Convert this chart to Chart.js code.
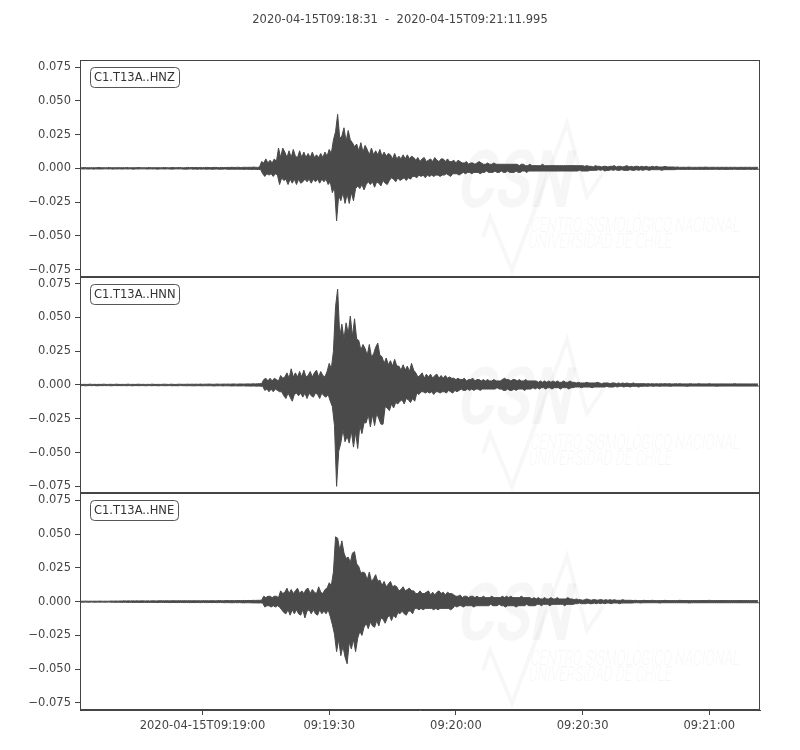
<!DOCTYPE html>
<html><head><meta charset="utf-8">
<script src="https://cdn.jsdelivr.net/npm/chart.js@4.4.1/dist/chart.umd.min.js"></script>
<style>html,body{margin:0;padding:0;background:#fff;}#wrap{width:800px;height:750px;position:relative;}canvas{display:block;}</style>
</head><body><div id="wrap"><canvas id="c" width="800" height="750"></canvas></div>
<script>
const TITLE = '2020-04-15T09:18:31  -  2020-04-15T09:21:11.995';
const SAMPLE_STEP = 0.25;      // seconds between successive peak / trough values
const VALUE_UNIT = 0.001;      // trace values below are written in units of 0.001
const X_MAX = 160.995;         // seconds after 09:18:31
const xTickSeconds = [29, 59, 89, 119, 149];
const xTickLabels = ['2020-04-15T09:19:00', '09:19:30', '09:20:00', '09:20:30', '09:21:00'];
const yTickValues = [-0.075, -0.05, -0.025, 0, 0.025, 0.05, 0.075];
const Y_LIMIT = 0.0802;
const channels = ['C1.T13A..HNZ', 'C1.T13A..HNN', 'C1.T13A..HNE'];

// alternating peak (+) / trough (-) values of each trace, one every SAMPLE_STEP seconds
const hnz = [
.5,-.4,.4,-.5,.6,-.4,.4,-.5,.5,-.5,.4,-.4,.5,-.6,.4,-.4,.5,-.5,.6,-.5,
.4,-.5,.5,-.4,.4,-.4,.5,-.5,.6,-.4,.4,-.6,.5,-.4,.4,-.5,.5,-.4,.4,-.5,
.5,-.5,.4,-.4,.6,-.5,.5,-.4,.4,-.5,.5,-.6,.4,-.4,.5,-.5,.6,-.4,.4,-.4,
.5,-.4,.4,-.5,.5,-.5,.6,-.4,.4,-.5,.5,-.4,.4,-.6,.5,-.5,.4,-.4,.5,-.5,
.6,-.5,.5,-.4,.4,-.5,.5,-.6,.6,-.5,.4,-.4,.5,-.5,.6,-.4,.5,-.5,.4,-.6,
.5,-.6,.7,-.5,.5,-.4,.6,-.6,.5,-.5,.6,-.7,.5,-.5,.7,-.6,.5,-.5,.6,-.6,
.7,-.6,.6,-.5,.5,-.7,.6,-.6,.7,-.5,.6,-.6,.5,-.7,.7,-.6,.6,-.5,.6,-.6,
.7,-.7,.6,-.6,.8,-.6,.6,-.7,.7,-.6,.8,-.7,.6,-.6,.7,-.8,.8,-.6,.7,-.7,
.8,-.7,.7,-.8,.9,-.7,.8,-.8,.7,-.9,.9,-.8,
5,-4,4,-6,7,-4,4,-5,6,-4,4,-6,7,-4,5,-5,
15,-12,8,-7,15,-9,
12,-8,8,-12,13,-8,8,-11,14,-8,9,-12,8,-8,13,-11,8,-10,12,-8,
8,-10,11,-8,8,-11,12,-8,8,-10,10,-8,8,-11,11,-8,8,-10,12,-8,9,-12,
14,-10,11,-18,21,-14,
27,-39,40,-20,22,-24,24,-18,30,-26,20,-19,28,-26,21,-18,19,-24,16,-15,
18,-13,13,-15,19,-12,12,-16,17,-12,
14,-10,10,-12,15,-10,10,-14,13,-10,10,-11,14,-13,9,-9,12,-11,9,-12,11,-9,
10,-7,7,-8,11,-10,7,-7,9,-9,7,-8,10,-7,7,-9,10,-7,7,-8,9,-6,
8,-6,6,-7,8,-5,5,-6,7,-5,8,-7,5,-5,6,-6,7,-5,5,-6,8,-5,6,-5,5,-6,7,-5,
7,-5,5,-4,7,-5,5,-6,5,-4,6,-4,4,-4,6,-5,
5,-4,4,-3,4,-4,5,-3,3,-3,4,-4,4,-3,3,-3,4,-3,5,-4,4,-3,3,-3,3,-2,4,-3,3,-3,3,-3,4,-2,3,-3,3,-3,3,-2,
3,-3,3,-3,3,-2,3,-3,3,-3,3,-3,3,-2,3,-3,2,-3,3,-2,3,-2,2,-3,2,-2,3,-2,
2,-2,2,-2,2,-2,2,-2,2,-2,3,-2,2,-2,2,-2,2,-2,2,-2,
2,-2,2,-2,2,-2,2,-2,2,-2,2,-2,2,-2,2,-2,2,-2,2,-2,
2,-2,2,-2,2,-1.5,2,-2,2,-2,1.5,-2,2,-2,1.5,-1.5,
1.5,-1.5,1,-1.5,2,-1.5,1.5,-1,1.5,-1.5,1,-1,1.5,-2,1.5,-1.5,1,-1.5,1.5,-1,
1.5,-1.5,2,-1,1,-1.5,1.5,-1.5,1.5,-1,1,-1.5,1.5,-1.5,2,-1.5,1,-1,1.5,-1.5,
1,-1.5,1.5,-1,1.5,-1.5,1,-1,1.5,-1.5,1,-1,1.5,-1,1,-1.5,1,-1,1.5,-1,
1,-1,1.5,-1,1,-1,1,-1.5,1,-1,1.5,-1,1,-1,1,-1,1,-1,1,-1,
.8,-.8,1,-.7,.7,-.8,.8,-.7,.8,-.8,.7,-.7,.9,-.8,.8,-.7,.7,-.8,.8,-.8,
.7,-.7,.8,-.8,.8,-.7,.7,-.8,.9,-.7,.8,-.8,.7,-.7,.8,-.8,.8,-.7,.7,-.7,
.8,-.8,.7,-.7,.8,-.7,.7,-.8,.8,-.8,.7,-.7,.8,-.8,.7,-.7,.8,-.7,.7,-.8,
.7,-.7,.8,-.7,.7,-.8,.8,-.7,.7,-.7,.8,-.8,.7,-.7,.7,-.8,.8,-.7,.7,-.7
];

const hnn = [
.5,-.5,.4,-.4,.5,-.6,.4,-.5,.5,-.4,.6,-.5,.4,-.4,.5,-.5,.4,-.6,.5,-.4,
.4,-.5,.6,-.4,.5,-.5,.4,-.4,.5,-.6,.5,-.5,.4,-.4,.6,-.5,.5,-.4,.4,-.5,
.5,-.4,.4,-.5,.5,-.5,.6,-.4,.4,-.6,.5,-.5,.4,-.4,.5,-.5,.6,-.5,.4,-.4,
.5,-.5,.4,-.6,.5,-.4,.4,-.5,.6,-.5,.5,-.4,.4,-.5,.5,-.6,.4,-.4,.5,-.5,
.6,-.5,.5,-.5,.4,-.4,.6,-.6,.5,-.5,.4,-.5,.5,-.6,.6,-.4,.5,-.5,.5,-.5,
.5,-.6,.6,-.5,.5,-.5,.6,-.6,.5,-.6,.6,-.5,.5,-.5,.7,-.6,.5,-.6,.6,-.5,
.6,-.6,.7,-.5,.6,-.6,.5,-.7,.6,-.6,.7,-.6,.6,-.5,.6,-.7,.7,-.6,.6,-.6,
.7,-.6,.6,-.7,.7,-.7,.8,-.6,.6,-.7,.7,-.7,.8,-.7,.7,-.6,.7,-.8,.8,-.7,
.8,-.8,.7,-.8,.9,-.7,.8,-.9,.9,-.8,1,-.9,1,-1,
4,-4,5,-3,3,-5,5,-3,3,-5,5,-3,4,-4,3,-5,
7,-5,5,-8,6,-10,9,-6,5,-9,12,-12,6,-7,
9,-6,6,-8,10,-6,6,-9,11,-6,6,-10,7,-6,10,-8,6,-9,9,-6,11,-7,6,-10,10,-6,7,-8,6,-9,10,-7,
16,-12,12,-16,
25,-30,58,-75,71,-49,
36,-43,45,-33,34,-42,46,-38,
38,-43,51,-34,36,-46,49,-35,34,-47,
33,-30,26,-36,30,-28,
27,-28,22,-22,30,-31,21,-22,23,-30,28,-21,31,-25,22,-29,
21,-29,16,-16,20,-17,15,-19,18,-14,14,-17,19,-13,14,-14,
14,-12,11,-11,15,-14,11,-10,14,-11,10,-13,16,-10,11,-12,
9,-6,6,-7,7,-5,9,-5,5,-6,8,-5,6,-6,8,-5,5,-7,7,-5,8,-5,5,-6,7,-5,5,-5,7,-6,5,-4,6,-5,5,-6,
5,-4,4,-5,5,-4,4,-3,4,-4,5,-4,3,-3,4,-4,4,-3,5,-4,3,-3,4,-3,4,-4,3,-3,4,-3,3,-3,4,-3,3,-3,3,-3,4,-3,3,-2,3,-3,3,-3,
4,-4,5,-4,4,-3,4,-4,3,-4,4,-3,4,-4,3,-3,4,-3,3,-3,3,-4,4,-3,3,-3,3,-3,3,-2,3,-3,
3,-2,2,-3,3,-2,2,-2,3,-3,2,-2,3,-2,2,-3,3,-2,2,-2,3,-2,2,-3,2,-2,3,-2,2,-2,2,-3,3,-2,2,-2,
2,-1.5,1.5,-1.5,2,-1.5,1.5,-2,1.5,-1.5,1.5,-1.5,2,-1.5,1.5,-1.5,
1.5,-2,1.5,-1.5,1.5,-1.5,2,-1.5,1.5,-1.5,1,-1.5,1.5,-1.5,1.5,-1,
1.5,-1.5,1,-1.5,1.5,-1.5,1.5,-1,1,-1.5,1.5,-1,1,-1,1.5,-1.5,
1,-1,1.5,-1,1,-1.5,1,-1,1.5,-1,1,-1,1,-1.5,1,-1,
1,-1,1,-.8,.8,-1,1,-.8,.8,-.8,1,-1,.8,-.8,1,-.8,.8,-1,1,-.8,
.8,-.8,1,-.8,.8,-.8,1,-1,.8,-.8,.8,-.8,1,-.8,.8,-.8,1,-.8,.8,-.8,
.8,-.8,.8,-1,.8,-.8,1,-.8,.8,-.8,.8,-.8,.8,-.8,1,-.8,.8,-.8,.8,-.8,
.8,-.8,.8,-.8,1,-.8,.8,-.8,.8,-.8,.8,-1,.8,-.8,.8,-.8,.8,-.8,.8,-.8,
.8,-.8,.8,-.8,.8,-.8,.8,-.8,1,-.8,.8,-.8,.8,-.8,.8,-.8,.8,-.8,.8,-.8,
.8,-.8,.8,-.8,.8,-.8,.8,-.8,.8,-.8,.8,-.8
];

const hne = [
.4,-.4,.3,-.4,.4,-.3,.4,-.4,.3,-.4,.4,-.3,.3,-.4,.4,-.4,.3,-.3,.4,-.4,
.4,-.3,.3,-.4,.4,-.4,.3,-.3,.4,-.4,.5,-.4,.4,-.5,.5,-.4,.4,-.4,.5,-.5,
.5,-.5,.6,-.4,.5,-.6,.6,-.5,.5,-.5,.6,-.6,.5,-.5,.6,-.5,.5,-.6,.6,-.6,
.6,-.5,.5,-.6,.6,-.6,.5,-.5,.6,-.6,.6,-.5,.5,-.6,.6,-.6,.7,-.5,.6,-.6,
.6,-.6,.7,-.6,.6,-.7,.6,-.6,.7,-.6,.6,-.6,.6,-.7,.7,-.6,.6,-.6,.7,-.7,
.7,-.6,.6,-.7,.7,-.7,.6,-.6,.7,-.7,.6,-.6,.7,-.7,.6,-.7,.7,-.6,.7,-.7,
.7,-.7,.6,-.6,.7,-.7,.7,-.6,.6,-.7,.7,-.7,.8,-.6,.7,-.7,.7,-.8,.8,-.7,
.8,-.7,.7,-.8,.8,-.8,.7,-.7,.8,-.8,.9,-.7,.8,-.8,.8,-.9,.9,-.8,.8,-.8,
.9,-.8,.8,-.9,1,-.9,.9,-.9,1,-1,1,-.9,1.1,-1,
4,-4,3,-3,4,-3,4,-4,3,-3,4,-4,4,-3,3,-4,
8,-6,6,-8,7,-9,10,-6,6,-10,9,-6,6,-9,8,-6,10,-9,6,-10,8,-6,6,-12,9,-7,10,-6,6,-9,9,-6,7,-9,6,-10,11,-6,7,-9,6,-7,9,-9,10,-6,
14,-11,12,-17,
22,-24,48,-37,47,-28,
38,-40,45,-33,36,-41,
32,-46,
33,-30,29,-35,36,-28,37,-37,28,-27,
26,-22,21,-25,22,-19,
21,-16,16,-20,22,-15,15,-18,17,-19,20,-14,15,-18,
16,-12,12,-13,15,-16,11,-12,13,-10,15,-14,11,-10,12,-12,
11,-8,8,-9,9,-7,11,-9,8,-10,9,-7,10,-7,8,-9,
8,-5,6,-5,6,-6,8,-5,6,-6,6,-5,7,-5,8,-5,5,-5,7,-6,5,-5,7,-6,8,-5,6,-5,7,-5,5,-5,7,-5,6,-6,6,-5,
5,-3,4,-4,4,-3,5,-3,3,-4,4,-3,4,-3,3,-3,4,-3,4,-4,3,-3,4,-3,3,-3,3,-3,4,-3,3,-3,3,-3,3,-2,4,-3,3,-3,3,-3,3,-2,3,-3,
4,-3,3,-4,4,-3,3,-3,4,-3,3,-3,3,-4,3,-3,3,-3,4,-3,3,-3,3,-2,3,-3,3,-3,2,-3,3,-3,
2,-2,3,-2,2,-3,2,-2,3,-2,2,-2,2,-3,3,-2,2,-2,2,-2,3,-2,2,-2,2,-2,2,-3,2,-2,3,-2,2,-2,2,-2,
1.5,-1.5,2,-1.5,1.5,-1,1.5,-1.5,1,-1.5,1.5,-1.5,2,-1,1.5,-1.5,1,-1.5,1.5,-1,
1.5,-1.5,1,-1,1.5,-1.5,1.5,-1,1,-1.5,1.5,-1,1,-1,1.5,-1.5,1,-1,1.5,-1,
1,-1,1,-1.5,1,-1,1.5,-1,1,-1,1,-1,1,-1,1,-1,
.8,-.8,1,-.8,.8,-.8,.8,-1,.8,-.8,1,-.8,.8,-.8,.8,-.8,.8,-.8,1,-.8,
.8,-.8,.8,-.8,.8,-1,.8,-.8,.8,-.8,1,-.8,.8,-.8,.8,-.8,.8,-.8,.8,-.8,
.8,-.8,.8,-.8,1,-.8,.8,-.8,.8,-.8,.8,-.8,.8,-1,.8,-.8,.8,-.8,.8,-.8,
.8,-.8,.8,-.8,.8,-.8,.8,-.8,.8,-.8,.8,-.8,1,-.8,.8,-.8,.8,-.8,.8,-.8,
.8,-.8,.8,-.8,.8,-.8,.8,-.8,.8,-.8,.8,-.8,.8,-.8,.8,-.8,.8,-.8,.8,-.8,
.8,-.8,.8,-.8,.8,-.8,.8,-.8,.8,-.8,.8,-.8,.8,-.8,.8,-.8,.8,-.8,.8,-.8
];

const FONT = "'DejaVu Sans', sans-serif";
const INK = '#444444';
const TRACE = '#4a4a4a';

function peaks(vals) {
  return vals.map((v, k) => ({ x: k * SAMPLE_STEP, y: v * VALUE_UNIT })).filter((p, k) => k % 2 === 0);
}
function troughs(vals) {
  return vals.map((v, k) => ({ x: k * SAMPLE_STEP, y: v * VALUE_UNIT })).filter((p, k) => k % 2 === 1);
}
function fmtY(v) {
  if (Math.abs(v) < 1e-9) return '0.000';
  return (v < 0 ? '\u2212' : '') + Math.abs(v).toFixed(3);
}
function yScale() {
  return {
    type: 'linear', position: 'left', stack: 'traces', stackWeight: 1,
    min: -Y_LIMIT, max: Y_LIMIT,
    afterBuildTicks: s => { s.ticks = yTickValues.map(v => ({ value: v })); },
    afterFit: s => { s.width = 80; },
    grid: { drawOnChartArea: false, tickLength: 5, color: INK, tickWidth: 1 },
    border: { display: true, color: INK, width: 1 },
    ticks: { color: INK, font: { family: FONT, size: 11.5 }, padding: 4, autoSkip: false, callback: v => fmtY(v) }
  };
}

const panelIds = ['yZ', 'yN', 'yE'];
const traces = [hnz, hnn, hne];

const decor = {
  id: 'decor',
  beforeDatasetsDraw(chart) {
    const ctx = chart.ctx, ca = chart.chartArea;
    ctx.save();
    panelIds.forEach(id => {
      const s = chart.scales[id];
      const top = s.top;
      ctx.fillStyle = 'rgba(0,0,0,0.035)';
      ctx.strokeStyle = 'rgba(0,0,0,0.03)';
      ctx.save();
      ctx.translate(ca.left + 375, top + 147);
      ctx.transform(0.72, 0, -0.2, 1, 0, 0);
      ctx.font = "bold 80px Roboto, sans-serif";
      ctx.textBaseline = 'alphabetic';
      ctx.fillText('CSN', 0, 0);
      ctx.restore();
      ctx.lineWidth = 4;
      ctx.beginPath();
      const pts = [[403,177],[410,157],[432,210],[487,63],[507,137],[523,113]];
      pts.forEach((p, i) => { const X = ca.left + p[0], Y = top + p[1]; i ? ctx.lineTo(X, Y) : ctx.moveTo(X, Y); });
      ctx.stroke();
      ctx.font = "300 21px Roboto, sans-serif";
      ctx.save();
      ctx.translate(ca.left + 450, top + 172);
      ctx.transform(0.64, 0, -0.12, 1, 0, 0);
      ctx.fillText('CENTRO SISMOLÓGICO NACIONAL', 0, 0);
      ctx.restore();
      ctx.save();
      ctx.translate(ca.left + 448, top + 188);
      ctx.transform(0.64, 0, -0.12, 1, 0, 0);
      ctx.fillText('UNIVERSIDAD DE CHILE', 0, 0);
      ctx.restore();
    });
    ctx.restore();
  },
  afterDatasetsDraw(chart) {
    const ctx = chart.ctx, ca = chart.chartArea;
    ctx.save();
    ctx.lineWidth = 1;
    panelIds.forEach((id, i) => {
      const s = chart.scales[id];
      const l = Math.round(ca.left) + 0.5, r = Math.round(ca.right) - 0.5;
      const t = Math.round(s.top) + 0.5, b = Math.round(s.bottom) - 0.5;
      ctx.strokeStyle = INK;
      ctx.strokeRect(l, t, r - l, b - t);
      ctx.font = "11.5px " + FONT;
      const w = ctx.measureText(channels[i]).width;
      const bx = Math.round(ca.left) + 10.5, by = Math.round(s.top) + 7.5, bw = Math.round(w + 8), bh = 20;
      ctx.fillStyle = '#ffffff';
      ctx.strokeStyle = '#555555';
      ctx.beginPath();
      ctx.roundRect(bx, by, bw, bh, 4);
      ctx.fill();
      ctx.stroke();
      ctx.fillStyle = '#333333';
      ctx.textBaseline = 'middle';
      ctx.textAlign = 'left';
      ctx.fillText(channels[i], bx + 3.5, by + bh / 2 + 0.5);
    });
    ctx.fillStyle = INK;
    ctx.font = "11.5px " + FONT;
    ctx.textAlign = 'center';
    ctx.textBaseline = 'middle';
    ctx.fillText(TITLE, chart.width / 2, 20);
    ctx.restore();
  }
};

const scales = {
  x: {
    type: 'linear', position: 'bottom', min: 0, max: X_MAX,
    afterBuildTicks: s => { s.ticks = xTickSeconds.map(v => ({ value: v })); },
    afterFit: s => { s.height = 40; },
    grid: { drawOnChartArea: false, tickLength: 5, color: INK },
    border: { display: true, color: INK, width: 1 },
    ticks: { color: INK, font: { family: FONT, size: 11.5 }, padding: 4, maxRotation: 0, autoSkip: false,
      callback: (v, i) => xTickLabels[i] }
  },
  yE: yScale(),
  yN: yScale(),
  yZ: yScale()
};

const datasets = [];
traces.forEach((vals, i) => {
  datasets.push({
    label: channels[i] + ' peaks', data: peaks(vals), yAxisID: panelIds[i],
    borderColor: TRACE, backgroundColor: TRACE, borderWidth: 1, pointRadius: 0, tension: 0,
    fill: '+1', parsing: false, normalized: true
  });
  datasets.push({
    label: channels[i] + ' troughs', data: troughs(vals), yAxisID: panelIds[i],
    borderColor: TRACE, borderWidth: 1, pointRadius: 0, tension: 0,
    fill: false, parsing: false, normalized: true
  });
});

new Chart(document.getElementById('c'), {
  type: 'line',
  data: { datasets: datasets },
  options: {
    responsive: false,
    animation: false,
    events: [],
    layout: { padding: { top: 60, right: 40, left: 0, bottom: 0 } },
    plugins: { legend: { display: false }, tooltip: { enabled: false }, title: { display: false } },
    scales: scales
  },
  plugins: [decor]
});
</script>
</body></html>
